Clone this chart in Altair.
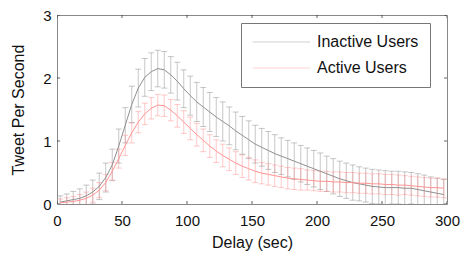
import altair as alt
import pandas as pd

# bin centres (seconds)
delay = [2.5 + 5 * i for i in range(60)]

inactive_mean = [0.03, 0.05, 0.07, 0.09, 0.13, 0.19, 0.28, 0.42, 0.62, 0.92,
                 1.25, 1.58, 1.84, 2.01, 2.10, 2.15, 2.13, 2.05, 1.95, 1.83,
                 1.72, 1.62, 1.54, 1.46, 1.38, 1.31, 1.24, 1.16, 1.09, 1.02,
                 0.95, 0.90, 0.85, 0.80, 0.76, 0.72, 0.68, 0.64, 0.60, 0.56,
                 0.52, 0.48, 0.44, 0.40, 0.37, 0.34, 0.32, 0.30, 0.28, 0.27,
                 0.26, 0.26, 0.26, 0.25, 0.25, 0.23, 0.21, 0.19, 0.17, 0.15]
inactive_err = [0.10, 0.11, 0.13, 0.15, 0.17, 0.19, 0.21, 0.23, 0.25, 0.27,
                0.28, 0.29, 0.30, 0.30, 0.30, 0.29, 0.29, 0.29, 0.30, 0.30,
                0.31, 0.31, 0.31, 0.31, 0.31, 0.31, 0.30, 0.30, 0.30, 0.30,
                0.30, 0.30, 0.30, 0.30, 0.29, 0.29, 0.29, 0.29, 0.29, 0.29,
                0.29, 0.28, 0.28, 0.28, 0.28, 0.28, 0.27, 0.27, 0.27, 0.27,
                0.27, 0.26, 0.26, 0.26, 0.25, 0.25, 0.25, 0.24, 0.24, 0.24]
active_mean = [0.02, 0.03, 0.04, 0.06, 0.09, 0.14, 0.22, 0.34, 0.52, 0.72,
               0.93, 1.13, 1.30, 1.43, 1.52, 1.57, 1.56, 1.49, 1.40, 1.30,
               1.20, 1.10, 1.01, 0.92, 0.84, 0.77, 0.71, 0.65, 0.60, 0.56,
               0.52, 0.49, 0.47, 0.45, 0.43, 0.41, 0.40, 0.39, 0.38, 0.37,
               0.36, 0.36, 0.35, 0.35, 0.34, 0.34, 0.33, 0.33, 0.32, 0.32,
               0.31, 0.31, 0.30, 0.30, 0.29, 0.28, 0.27, 0.26, 0.26, 0.25]
active_err = [0.06, 0.07, 0.08, 0.09, 0.10, 0.11, 0.12, 0.13, 0.14, 0.15,
              0.16, 0.16, 0.17, 0.17, 0.17, 0.17, 0.17, 0.17, 0.18, 0.18,
              0.18, 0.18, 0.18, 0.18, 0.18, 0.18, 0.18, 0.18, 0.18, 0.18,
              0.18, 0.17, 0.17, 0.17, 0.17, 0.17, 0.17, 0.17, 0.16, 0.16,
              0.16, 0.16, 0.16, 0.16, 0.16, 0.16, 0.16, 0.16, 0.16, 0.16,
              0.16, 0.16, 0.16, 0.15, 0.15, 0.15, 0.15, 0.15, 0.15, 0.15]

series_names = ["Inactive Users", "Active Users"]
line_colors = ["#8f8f8f", "#ff9494"]

x_ticks = [0, 50, 100, 150, 200, 250, 300]
y_ticks = [0, 1, 2, 3]

rows = []
for name, m, e in [(series_names[0], inactive_mean, inactive_err),
                   (series_names[1], active_mean, active_err)]:
    for d, mv, ev in zip(delay, m, e):
        rows.append({"delay": d, "value": mv, "lo": mv - ev, "hi": mv + ev, "series": name})
df = pd.DataFrame(rows)

xs = alt.Scale(domain=[0, 300], nice=False, zero=False)
ys = alt.Scale(domain=[0, 3], nice=False)
cs = alt.Scale(domain=series_names, range=line_colors)

color_enc = alt.Color(
    "series:N", scale=cs, sort=series_names,
    legend=alt.Legend(title=None, orient="none", legendX=184, legendY=8,
                      symbolType="stroke", symbolSize=3300,
                      symbolStrokeWidth=1, symbolOpacity=0.4,
                      labelFontSize=16, labelFont="Liberation Sans",
                      labelColor="#111", labelOffset=6,
                      clipHeight=16, rowPadding=10, padding=11,
                      strokeColor="#777", fillColor="white"))

x_enc = alt.X("delay:Q", scale=xs,
              axis=alt.Axis(values=x_ticks, format="d", title="Delay (sec)",
                            labelFlush=False))
base = alt.Chart(df)

bars = base.mark_rule(opacity=0.5, strokeWidth=1, clip=True).encode(
    x=x_enc, y=alt.Y("lo:Q", scale=ys), y2="hi:Q", color=color_enc,
)
caps_hi = base.mark_tick(orient="horizontal", size=6, thickness=1, opacity=0.5, clip=True).encode(
    x=x_enc, y=alt.Y("hi:Q", scale=ys), color=color_enc,
)
caps_lo = base.mark_tick(orient="horizontal", size=6, thickness=1, opacity=0.5, clip=True).encode(
    x=x_enc, y=alt.Y("lo:Q", scale=ys), color=color_enc,
)
lines = base.mark_line(strokeWidth=1, clip=True).encode(
    x=x_enc,
    y=alt.Y("value:Q", scale=ys,
            axis=alt.Axis(values=y_ticks, format="d", title="Tweet Per Second",
                          labelFlush=False)),
    color=color_enc,
)

xt = pd.DataFrame({"t": x_ticks})
yt = pd.DataFrame({"t": y_ticks})
tick_style = dict(thickness=1, size=6, color="#222", clip=True)
xb = alt.Chart(xt).mark_tick(orient="vertical", **tick_style).encode(
    x=alt.X("t:Q", scale=xs), y=alt.datum(0, scale=ys))
xtp = alt.Chart(xt).mark_tick(orient="vertical", **tick_style).encode(
    x=alt.X("t:Q", scale=xs), y=alt.datum(3, scale=ys))
yl = alt.Chart(yt).mark_tick(orient="horizontal", **tick_style).encode(
    y=alt.Y("t:Q", scale=ys), x=alt.datum(0, scale=xs))
yr = alt.Chart(yt).mark_tick(orient="horizontal", **tick_style).encode(
    y=alt.Y("t:Q", scale=ys), x=alt.datum(300, scale=xs))

chart = alt.layer(bars, caps_hi, caps_lo, lines, xb, xtp, yl, yr).properties(
    width=390, height=189,
    autosize=alt.AutoSizeParams(type="none"),
    padding={"left": 49, "top": 7, "right": 14, "bottom": 50},
    background="white",
).configure_scale(
    continuousPadding=0
).configure_view(
    stroke="#888", strokeWidth=1
).configure_axis(
    grid=False, ticks=False, domain=False,
    labelFont="Liberation Sans", labelFontSize=15, labelColor="#111",
    titleFont="Liberation Sans", titleFontSize=16, titleFontWeight="normal",
    titleColor="#111",
).configure_axisX(
    labelPadding=9, titlePadding=6,
).configure_axisY(
    labelPadding=6, titlePadding=16,
)

chart.save("out.html", embed_options={"renderer": "svg", "actions": False})
